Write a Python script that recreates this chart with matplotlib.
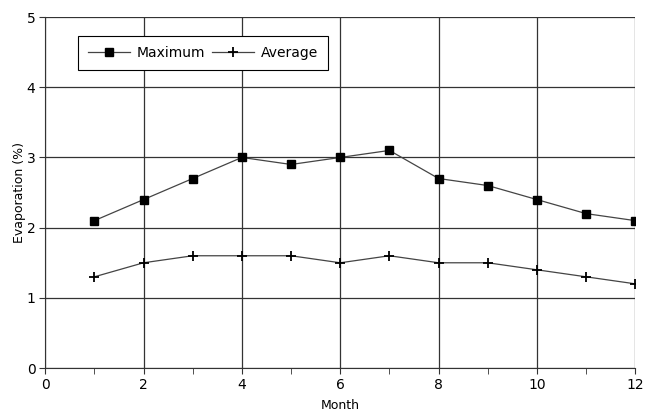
import matplotlib
matplotlib.use('Agg')
import matplotlib.pyplot as plt
import numpy as np

months = [1, 2, 3, 4, 5, 6, 7, 8, 9, 10, 11, 12]
maximum = [2.1, 2.4, 2.7, 3.0, 2.9, 3.0, 3.1, 2.7, 2.6, 2.4, 2.2, 2.1]
average = [1.3, 1.5, 1.6, 1.6, 1.6, 1.5, 1.6, 1.5, 1.5, 1.4, 1.3, 1.2]

fig = plt.figure(figsize=(6.45, 4.15), dpi=100)
ax = fig.add_axes([0.070, 0.113, 0.915, 0.846])

ax.plot(months, maximum, color='#444444', lw=0.9, marker='s', ms=6,
        mfc='black', mec='black', label='Maximum')
ax.plot(months, average, color='#444444', lw=0.9, marker='+', ms=7,
        mew=1.3, mec='black', label='Average')

ax.set_xlim(0, 12)
ax.set_ylim(0, 5)
ax.set_xticks(np.arange(0, 13, 2))
ax.set_xticks(np.arange(1, 13, 2), minor=True)
ax.set_yticks(np.arange(0, 6, 1))
ax.grid(True, color='#333333', lw=0.9)
ax.set_axisbelow(True)

for s in ['top', 'right']:
    ax.spines[s].set_visible(False)
ax.spines['left'].set_color('#333333')
ax.spines['bottom'].set_color('#333333')

ax.tick_params(axis='both', which='major', length=4, direction='out',
               labelsize=10, color='#333333', pad=3)
ax.tick_params(axis='x', which='minor', length=4, direction='out', color='#333333')

ax.set_xlabel('Month', fontsize=9, labelpad=5)
ax.set_ylabel('Evaporation (%)', fontsize=9)
ax.yaxis.set_label_coords(-0.032, 0.5)

leg = ax.legend(loc='upper left', bbox_to_anchor=(0.056, 0.945), ncol=2,
                fancybox=False, edgecolor='black', framealpha=1,
                fontsize=10, handlelength=3, columnspacing=0.5,
                handletextpad=0.5, borderpad=0.7, borderaxespad=0)
leg.get_frame().set_linewidth(0.8)

fig.savefig('out.png', dpi=100)
